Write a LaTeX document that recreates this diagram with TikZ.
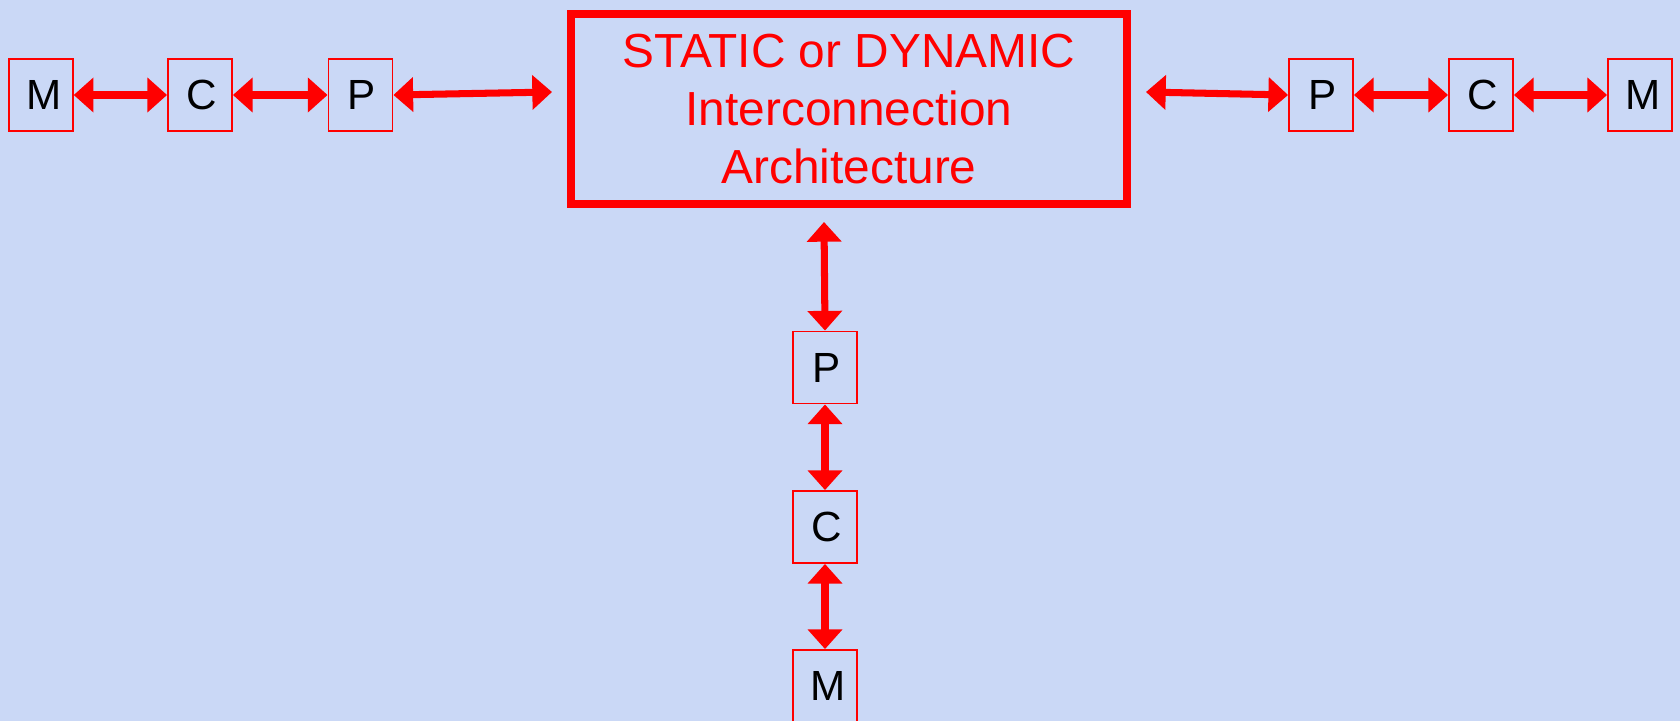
\documentclass[tikz,border=0pt]{standalone}
\usepackage{fontspec}
\setmainfont{Liberation Sans}
\usetikzlibrary{arrows.meta}
\definecolor{bgblue}{RGB}{202,216,246}
\definecolor{pure red}{RGB}{255,0,0}
\begin{document}
\begin{tikzpicture}[x=0.025cm,y=-0.025cm,
  unit/.style={draw=pure red,line width=1.3pt,minimum width=64*0.7113pt,minimum height=72*0.7113pt,
    inner sep=0pt,font=\fontsize{30pt}{32pt}\selectfont,text=black},
  bigbox/.style={draw=pure red,line width=5.3pt,minimum width=556*0.7113pt,minimum height=190*0.7113pt,
    inner sep=0pt,align=center,text=pure red,font=\fontsize{34pt}{41pt}\selectfont},
  link/.style={draw=pure red,line width=5pt,{Triangle[length=14pt,width=24pt]}-{Triangle[length=14pt,width=24pt]}}
]
\fill[bgblue] (0,0) rectangle (1680,721);
\useasboundingbox (0,0) rectangle (1680,721);
% big box
\node[bigbox] (big) at (849,109) {STATIC or DYNAMIC\\Interconnection\\Architecture};
% left chain
\node[unit] (Ml) at (40.8,95) {\hspace{4pt}M};
\node[unit] (Cl) at (200,95) {\hspace{3pt}C};
\node[unit] (Pl) at (360.5,95) {\hspace{2pt}P};
% right chain
\node[unit] (Pr) at (1321,95) {\hspace{2pt}P};
\node[unit] (Cr) at (1481,95) {\hspace{3pt}C};
\node[unit] (Mr) at (1640,95) {\hspace{4pt}M};
% bottom chain
\node[unit] (Pb) at (825,367.5) {\hspace{2pt}P};
\node[unit] (Cb) at (825,527) {\hspace{3pt}C};
\node[unit] (Mb) at (825,686) {\hspace{4pt}M};
% free ends near the big box
\coordinate (bigL) at (552,92);
\coordinate (bigR) at (1146,92);
\coordinate (bigB) at (824,222);
% connectors
\draw[link] (Ml.east) -- (Cl.west);
\draw[link] (Cl.east) -- (Pl.west);
\draw[link] (Pl.east) -- (bigL);
\draw[link] (bigR) -- (Pr.west);
\draw[link] (Pr.east) -- (Cr.west);
\draw[link] (Cr.east) -- (Mr.west);
\draw[link] (bigB) -- (Pb.north);
\draw[link] (Pb.south) -- (Cb.north);
\draw[link] (Cb.south) -- (Mb.north);
\end{tikzpicture}
\end{document}
